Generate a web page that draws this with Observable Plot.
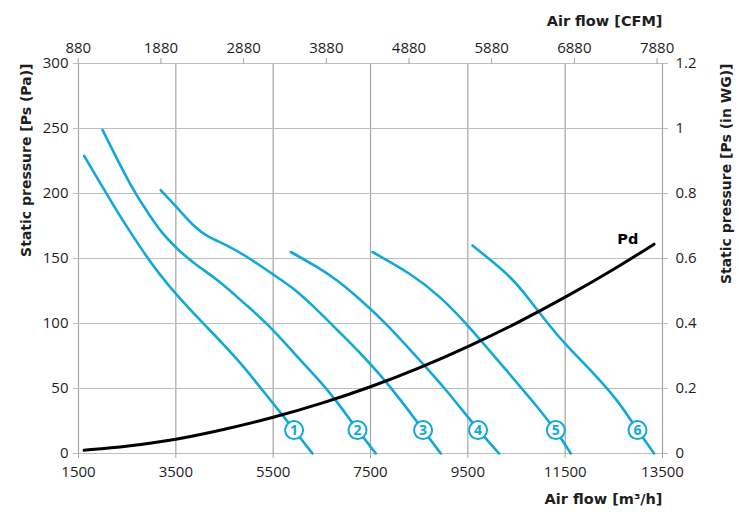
<!DOCTYPE html>
<html>
<head>
<meta charset="utf-8">
<script src="https://cdn.jsdelivr.net/npm/d3@7"></script>
<script src="https://cdn.jsdelivr.net/npm/@observablehq/plot@0.6"></script>
<style>
  html, body { margin: 0; padding: 0; background: #fff; }
  #chart svg { display: block; }
</style>
</head>
<body>
<div id="chart"></div>
<script>
// ---- tick values ----
const xTicks = [1500, 3500, 5500, 7500, 9500, 11500, 13500];      // m3/h
const yTicks = [0, 50, 100, 150, 200, 250, 300];                  // Pa
const cfmTicks = [880, 1880, 2880, 3880, 4880, 5880, 6880, 7880]; // CFM
const inWgTicks = [0, 0.2, 0.4, 0.6, 0.8, 1, 1.2];                // in WG
const M3H_PER_CFM = 1.699;
const PA_PER_INWG = 250;

// ---- fan curves [air flow m3/h, static pressure Pa] ----
const curve1 = [[1615,229],[2026,203],[2369,181.5],[2848,154],[3191,136.5],[3514,122],[4013,102],[4492,83.5],[4903,66.5],[5143,55],[5725,28],[5930,18],[6308,0]];
const curve2 = [[1993,249],[2610,202.5],[2986,182],[3191,170.5],[3514,157.7],[3875,146],[4424,132],[4903,115.5],[5384,100],[5930,77],[6444,56.5],[6752,43],[7233,18],[7609,0]];
const curve3 = [[3191,202.5],[3514,189.7],[3875,174.3],[4151,166.6],[4562,160.2],[4973,151.2],[5519,137.2],[5930,127],[6411,110.2],[6822,94.8],[7301,77],[7712,60],[8123,41],[8431,25.6],[8580,18],[8945,0]];
const curve4 = [[5862,155],[6411,143.5],[6822,133.3],[7301,118],[7815,100.5],[8601,68],[9047,49.5],[9710,18],[10142,0]];
const curve5 = [[7541,155],[8328,138.5],[8945,120.5],[9493,99],[10040,75],[10588,51],[10904,37],[11308,18],[11616,0]];
const curve6 = [[9596,160],[9972,148.7],[10383,135.8],[10726,120.5],[11137,100],[11548,82],[12095,61.5],[12575,41],[12849,25.6],[12986,18],[13327,0]];
const curveNames = ["1", "2", "3", "4", "5", "6"];

// curve number badges
const badgeX = [5930, 7233, 8580, 9710, 11308, 12986];
const badgeY = [18, 18, 18, 18, 18, 18];

// dynamic pressure Pd
const pdX = [1615, 2500, 3500, 4500, 5500, 6500, 7500, 8500, 9500, 10500, 11500, 12500, 13327];
const pdY = [2.5, 5.5, 10.5, 18.5, 27.5, 38.5, 51, 65.5, 82, 100, 120, 141.5, 161];
const pdLabel = {x: 12787, y: 165, text: "Pd"};

// ---- build tables ----
const curves = [curve1, curve2, curve3, curve4, curve5, curve6];
const fanRows = curves.flatMap((c, i) => c.map(([x, y]) => ({fan: curveNames[i], x, y})));
const badgeRows = curveNames.map((n, i) => ({fan: n, x: badgeX[i], y: badgeY[i]}));
const pdRows = pdX.map((x, i) => ({x, y: pdY[i]}));

const CYAN = "#12a8d8";
const GRIDV = "#a4a4a4";
const GRIDH = "#bdbdbd";
const TEXT = "#1e1e1e";
const TITLE_FONT = "'DejaVu Sans', sans-serif";

const chart = Plot.plot({
  width: 739,
  height: 518,
  marginLeft: 78,
  marginRight: 77,
  marginTop: 63,
  marginBottom: 65,
  x: {domain: [1500, 13500]},
  y: {domain: [0, 300]},
  style: {fontFamily: "'Open Sans', sans-serif", fontSize: "15px", color: TEXT, background: "#fff"},
  marks: [
    Plot.gridX(xTicks, {stroke: GRIDV, strokeOpacity: 1, strokeWidth: 1.2}),
    Plot.gridY(yTicks, {stroke: GRIDH, strokeOpacity: 1, strokeWidth: 1.2}),
    Plot.axisX(xTicks, {anchor: "bottom", tickSize: 5, tickPadding: 8, stroke: GRIDV, fill: TEXT, tickFormat: d => String(d), label: null}),
    Plot.axisX(cfmTicks.map(c => c * M3H_PER_CFM), {anchor: "top", tickSize: 6, tickPadding: 5, stroke: GRIDV, fill: TEXT, tickFormat: d => String(Math.round(d / M3H_PER_CFM)), label: null}),
    Plot.axisY(yTicks, {anchor: "left", tickSize: 5, tickPadding: 5, stroke: GRIDH, fill: TEXT, tickFormat: d => String(d), label: null}),
    Plot.axisY(inWgTicks.map(v => v * PA_PER_INWG), {anchor: "right", tickSize: 5, tickPadding: 8, stroke: GRIDH, fill: TEXT, tickFormat: d => String(+(d / PA_PER_INWG).toFixed(2)), label: null}),
    Plot.line(fanRows, {x: "x", y: "y", z: "fan", stroke: CYAN, strokeWidth: 2.6, curve: "basis"}),
    Plot.line(pdRows, {x: "x", y: "y", stroke: "#000", strokeWidth: 3, curve: "basis"}),
    Plot.text([pdLabel], {x: "x", y: "y", text: "text", fill: "#000", fontWeight: "bold", fontSize: 14.5, fontFamily: TITLE_FONT}),
    Plot.dot(badgeRows, {x: "x", y: "y", r: 9, fill: "#fff", stroke: CYAN, strokeWidth: 2}),
    Plot.text(badgeRows, {x: "x", y: "y", text: "fan", fill: CYAN, fontWeight: "bold", fontSize: 14}),
    Plot.text(["Air flow [CFM]"], {text: d => d, frameAnchor: "top-right", dy: -48, textAnchor: "end", fontWeight: "bold", fontSize: 14.5, fontFamily: TITLE_FONT, fill: TEXT}),
    Plot.text(["Air flow [m³/h]"], {text: d => d, frameAnchor: "bottom-right", dy: 50, textAnchor: "end", fontWeight: "bold", fontSize: 14.5, fontFamily: TITLE_FONT, fill: TEXT}),
    Plot.text(["Static pressure [Ps (Pa)]"], {text: d => d, frameAnchor: "top-left", dx: -57, rotate: -90, textAnchor: "end", fontWeight: "bold", fontSize: 14, fontFamily: TITLE_FONT, fill: TEXT}),
    Plot.text(["Static pressure [Ps (in WG)]"], {text: d => d, frameAnchor: "top-right", dx: 59, rotate: -90, textAnchor: "end", fontWeight: "bold", fontSize: 14, fontFamily: TITLE_FONT, fill: TEXT})
  ]
});
document.getElementById("chart").appendChild(chart);
</script>
</body>
</html>
